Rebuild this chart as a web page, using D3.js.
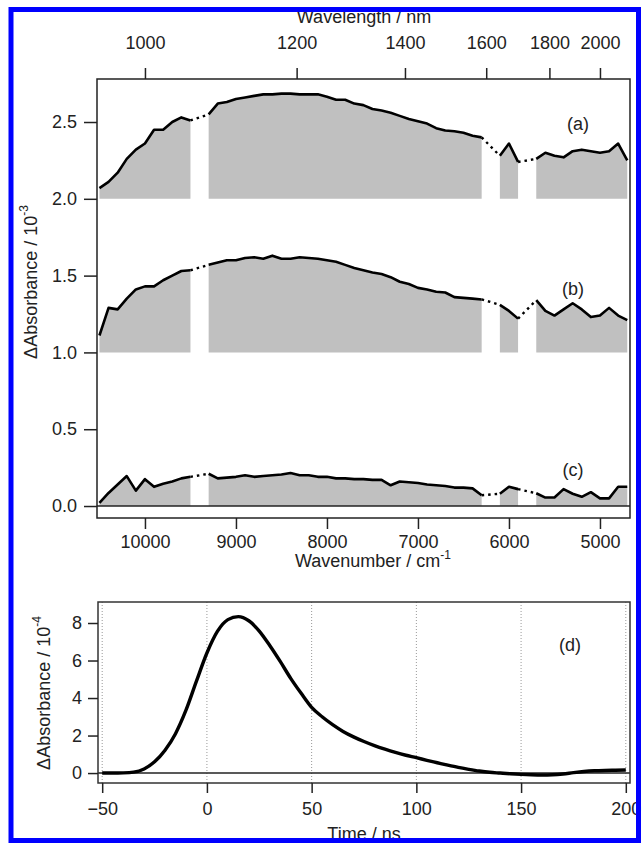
<!DOCTYPE html>
<html lang="en">
<head>
  <meta charset="UTF-8">
  <title>Transient absorption spectra and trace</title>
  <script src="https://d3js.org/d3.v7.min.js"></script>
  <style>
    html, body { margin: 0; padding: 0; background: #fff; }
    svg { display: block; }
    text { font-family: "Liberation Sans", Arial, sans-serif; fill: #222; }
    .axis text { font-size: 18px; }
    .axis line { stroke: #222; stroke-width: 1.5; }
  </style>
</head>
<body>
<svg id="canvas" width="642" height="843"></svg>
<script>
// measured wavenumbers (cm-1); holes in the grid are the missing regions
let wavenumbers = [10500,10400,10300,10200,10100,10000,9900,9800,9700,9600,9500,
  9300,9200,9100,9000,8900,8800,8700,8600,8500,8400,8300,8200,8100,8000,7900,7800,7700,7600,7500,
  7400,7300,7200,7100,7000,6900,6800,6700,6600,6500,6400,6300,
  6100,6000,5900,
  5700,5600,5500,5400,5300,5200,5100,5000,4900,4800,4700]

// spectra, in units of 10^-3 (already offset as plotted)
let specA = [2.07,2.11,2.17,2.26,2.32,2.36,2.45,2.45,2.50,2.53,2.51,
  2.55,2.62,2.63,2.65,2.66,2.67,2.68,2.68,2.685,2.685,2.68,2.68,2.68,2.665,2.645,2.645,2.62,2.61,2.585,
  2.575,2.56,2.54,2.52,2.505,2.49,2.46,2.445,2.44,2.43,2.41,2.40,
  2.28,2.36,2.24,
  2.26,2.30,2.28,2.27,2.31,2.32,2.31,2.30,2.31,2.36,2.25]
let specB = [1.11,1.29,1.28,1.35,1.41,1.43,1.43,1.47,1.50,1.53,1.535,
  1.57,1.585,1.60,1.60,1.615,1.62,1.61,1.63,1.61,1.61,1.62,1.615,1.61,1.60,1.59,1.57,1.55,1.535,1.52,
  1.51,1.49,1.46,1.445,1.42,1.41,1.395,1.39,1.36,1.355,1.35,1.345,
  1.31,1.27,1.22,
  1.34,1.27,1.24,1.28,1.32,1.28,1.23,1.24,1.29,1.24,1.21]
let specC = [0.02,0.085,0.14,0.195,0.10,0.175,0.125,0.145,0.16,0.18,0.19,
  0.21,0.18,0.185,0.19,0.20,0.19,0.195,0.20,0.205,0.215,0.20,0.20,0.19,0.19,0.18,0.18,0.175,0.175,0.17,
  0.17,0.135,0.16,0.155,0.15,0.14,0.135,0.13,0.12,0.12,0.115,0.07,
  0.08,0.125,0.11,
  0.083,0.055,0.055,0.11,0.08,0.06,0.09,0.05,0.05,0.125,0.125]
let baselines = [2.0, 1.0, 0.0]
let specLabels = ['(a)', '(b)', '(c)']

let yTicksTop = [0.0, 0.5, 1.0, 1.5, 2.0, 2.5]
let wnTicks = [10000, 9000, 8000, 7000, 6000, 5000]
let wlTicks = [1000, 1200, 1400, 1600, 1800, 2000]

// kinetic trace (d), in units of 10^-4
let times = [-50,-45,-40,-35,-30,-25,-20,-15,-10,-5,0,5,10,15,20,25,30,35,40,45,50,55,60,65,70,75,80,85,90,95,
  100,105,110,115,120,125,130,135,140,145,150,155,160,165,170,175,180,185,190,195,200]
let trace = [0,0,0.01,0.05,0.22,0.6,1.22,2.1,3.35,4.9,6.4,7.55,8.18,8.34,8.12,7.57,6.8,5.95,5.05,4.25,3.5,
  3.0,2.58,2.22,1.93,1.68,1.46,1.27,1.1,0.95,0.82,0.68,0.55,0.42,0.3,0.2,0.11,0.04,0,-0.04,-0.07,
  -0.09,-0.1,-0.09,-0.05,0.02,0.08,0.12,0.14,0.15,0.16]
let timeTicks = [-50, 0, 50, 100, 150, 200]
let yTicksBot = [0, 2, 4, 6, 8]

let svg = d3.select('#canvas')

// ---------- top panel: spectra ----------
let x = d3.scaleLinear().domain([10527, 4670]).range([97, 630])
let y = d3.scaleLinear().domain([-0.078, 2.78]).range([518, 79])

// split the points into continuous pieces (gap = step larger than 100 cm-1)
let pieces = []
let cur = [0]
for (let i = 1; i < wavenumbers.length; i++) {
  if (wavenumbers[i - 1] - wavenumbers[i] > 100) { pieces.push(cur); cur = [] }
  cur.push(i)
}
pieces.push(cur)

let series = [specA, specB, specC]
series.forEach((vals, s) => {
  let base = baselines[s]
  let area = d3.area().x(i => x(wavenumbers[i])).y0(y(base)).y1(i => y(vals[i]))
  let line = d3.line().x(i => x(wavenumbers[i])).y(i => y(vals[i]))
  pieces.forEach(p => {
    svg.append('path').attr('d', area(p)).attr('fill', '#c0c0c0')
  })
  pieces.forEach((p, k) => {
    svg.append('path').attr('d', line(p)).attr('fill', 'none')
      .attr('stroke', '#000').attr('stroke-width', 2.6).attr('stroke-linejoin', 'round')
    if (k < pieces.length - 1) {
      let a = p[p.length - 1], b = pieces[k + 1][0]
      svg.append('path').attr('d', line([a, b])).attr('fill', 'none')
        .attr('stroke', '#000').attr('stroke-width', 2.4).attr('stroke-dasharray', '2.5,4')
    }
  })
})

// zero line of (c)
svg.append('line').attr('x1', 97).attr('x2', 630).attr('y1', y(0)).attr('y2', y(0))
  .attr('stroke', '#222').attr('stroke-width', 1.5)

// frame
svg.append('rect').attr('x', 97).attr('y', 79).attr('width', 533).attr('height', 439)
  .attr('fill', 'none').attr('stroke', '#222').attr('stroke-width', 1.5)

svg.append('g').attr('class', 'axis').attr('transform', 'translate(97,0)')
  .call(d3.axisLeft(y).tickValues(yTicksTop).tickFormat(d3.format('.1f')).tickSize(13).tickPadding(7))
  .call(g => g.select('.domain').remove())

svg.append('g').attr('class', 'axis').attr('transform', 'translate(0,518)')
  .call(d3.axisBottom(x).tickValues(wnTicks).tickFormat(d3.format('d')).tickSize(11).tickPadding(6))
  .call(g => g.select('.domain').remove())

// wavelength axis on top: nm -> cm-1
svg.append('g').attr('class', 'axis').attr('transform', 'translate(0,79)')
  .call(d3.axisTop(x).tickValues(wlTicks.map(l => 1e7 / l)).tickFormat((d, i) => wlTicks[i]).tickSize(11).tickPadding(19))
  .call(g => g.select('.domain').remove())

svg.append('text').attr('x', 364).attr('y', 23).attr('text-anchor', 'middle')
  .style('font-size', '18px').text('Wavelength / nm')

let xl = svg.append('text').attr('x', 373).attr('y', 567).attr('text-anchor', 'middle').style('font-size', '18px')
xl.append('tspan').text('Wavenumber / cm')
xl.append('tspan').attr('dy', -8).style('font-size', '12px').text('-1')

let yl = svg.append('text').attr('transform', 'translate(37,282) rotate(-90)').attr('text-anchor', 'middle').style('font-size', '18px')
yl.append('tspan').text('\u0394Absorbance / 10')
yl.append('tspan').attr('dy', -9).style('font-size', '12px').text('-3')

let labelPos = [[578, 130], [573, 295], [573, 476]]
specLabels.forEach((t, i) => {
  svg.append('text').attr('x', labelPos[i][0]).attr('y', labelPos[i][1]).attr('text-anchor', 'middle')
    .style('font-size', '18px').text(t)
})

// ---------- bottom panel: kinetic trace ----------
let xt = d3.scaleLinear().domain([-52, 202]).range([98, 630])
let yt = d3.scaleLinear().domain([-0.53, 9.12]).range([783, 602])

svg.append('g').selectAll('line').data(timeTicks).join('line')
  .attr('x1', d => xt(d)).attr('x2', d => xt(d)).attr('y1', 602).attr('y2', 783)
  .attr('stroke', '#999').attr('stroke-width', 1).attr('stroke-dasharray', '1,2')

svg.append('line').attr('x1', 98).attr('x2', 630).attr('y1', yt(0)).attr('y2', yt(0))
  .attr('stroke', '#222').attr('stroke-width', 1.5)

svg.append('path').datum(times.map((t, i) => [t, trace[i]]))
  .attr('d', d3.line().x(d => xt(d[0])).y(d => yt(d[1])).curve(d3.curveMonotoneX))
  .attr('fill', 'none').attr('stroke', '#000').attr('stroke-width', 3.4)

svg.append('rect').attr('x', 98).attr('y', 602).attr('width', 532).attr('height', 181)
  .attr('fill', 'none').attr('stroke', '#333').attr('stroke-width', 1.5)

svg.append('g').attr('class', 'axis').attr('transform', 'translate(98,0)')
  .call(d3.axisLeft(yt).tickValues(yTicksBot).tickSize(10).tickPadding(6))
  .call(g => g.select('.domain').remove())

svg.append('g').attr('class', 'axis').attr('transform', 'translate(0,783)')
  .call(d3.axisBottom(xt).tickValues(timeTicks).tickSize(10).tickPadding(9))
  .call(g => g.select('.domain').remove())

svg.append('text').attr('x', 364).attr('y', 840).attr('text-anchor', 'middle')
  .style('font-size', '18px').text('Time / ns')

let yl2 = svg.append('text').attr('transform', 'translate(50,693) rotate(-90)').attr('text-anchor', 'middle').style('font-size', '18px')
yl2.append('tspan').text('\u0394Absorbance / 10')
yl2.append('tspan').attr('dy', -9).style('font-size', '12px').text('-4')

svg.append('text').attr('x', 570).attr('y', 651).attr('text-anchor', 'middle')
  .style('font-size', '18px').text('(d)')

// blue outer border
svg.append('rect').attr('x', 11).attr('y', 9.5).attr('width', 627.5).attr('height', 831)
  .attr('fill', 'none').attr('stroke', '#0000ff').attr('stroke-width', 5)
</script>
</body>
</html>
